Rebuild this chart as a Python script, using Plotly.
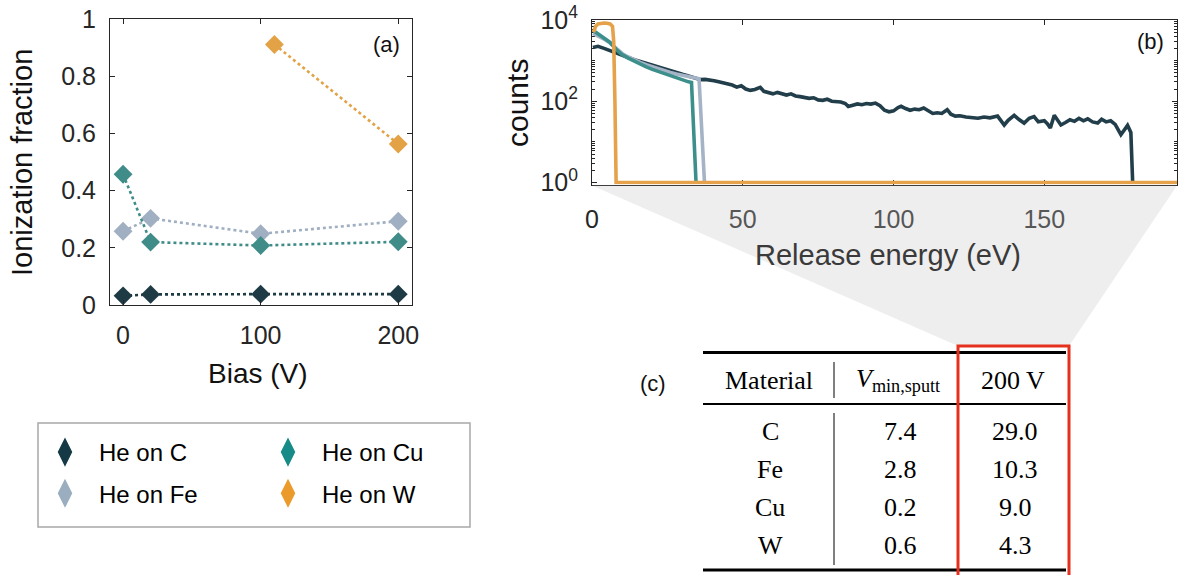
import plotly.graph_objects as go

W, H = 1179, 575
FONT = "Liberation Sans"
SERIF = "Liberation Serif"

# ---------------- Panel (a) data ----------------
bias_c = [0, 20, 100, 200]
frac_c = [0.032, 0.037, 0.038, 0.038]
bias_fe = [0, 20, 100, 200]
frac_fe = [0.258, 0.303, 0.249, 0.293]
bias_cu = [0, 20, 100, 200]
frac_cu = [0.457, 0.220, 0.208, 0.221]
bias_w = [110, 200]
frac_w = [0.911, 0.563]
series_names = ["He on C", "He on Fe", "He on Cu", "He on W"]

# ---------------- Panel (b) data ----------------
energy_c = [0.3, 2, 4, 6, 8, 10, 12, 14, 16, 18, 20, 22, 24, 26, 28, 30, 32, 34, 36,
            37.5, 39, 40.5, 42, 43.5, 45, 46.5, 48, 49.5, 51, 52.5, 54, 55.8, 57, 58.5,
            60, 61.5, 63, 64.5, 66, 67.5, 69, 70.5, 72, 73.5, 75, 76.5, 78, 79.5, 81,
            82.5, 84, 85, 86.5, 88, 89.5, 91, 92.5, 94, 95.5, 97, 98.5, 100, 101.5,
            102.5, 104, 105.5, 107, 108.5, 110, 111.5, 113, 114.5, 116, 117.8, 119,
            120.5, 122, 124, 126, 128, 130, 132, 134.5, 136.7, 138, 140, 141.5, 143.3,
            145, 146.6, 148, 150, 151, 152, 153.3, 154.5, 155.5, 157, 158.5, 160,
            161.5, 163, 164.4, 166, 167.7, 169, 170.5, 172, 173.5, 175.4, 176.5,
            177.6, 178.7, 179.3]
counts_c = [2100, 2250, 2000, 1750, 1550, 1350, 1180, 1050, 950, 850, 760, 680, 610,
            550, 500, 460, 420, 380, 340, 345, 335, 320, 300, 285, 270, 250, 222, 240,
            200, 185, 195, 220, 175, 160, 152, 165, 150, 142, 152, 135, 130, 126, 118,
            122, 108, 105, 112, 100, 98, 96, 88, 74, 80, 86, 82, 88, 85, 90, 78, 60, 55,
            58, 70, 75, 66, 60, 64, 62, 68, 58, 50, 52, 50, 62, 48, 43, 44, 41, 40, 38,
            41, 39, 43, 26, 34, 45, 36, 29, 38, 42, 31, 33, 28, 22, 45, 34, 26, 30, 35,
            32, 38, 33, 37, 31, 29, 36, 31, 33, 27, 15, 19, 25.5, 17, 1]

energy_fe = [0.3, 2, 4, 6, 8, 10, 12, 14, 16, 18, 20, 22, 24, 26, 28, 30, 32, 34, 35.5,
             37.3]
counts_fe = [4700, 4100, 3400, 2700, 1950, 1500, 1230, 1030, 900, 790, 700, 620, 560,
             510, 470, 440, 410, 380, 360, 1]

energy_cu = [0.3, 2, 4, 6, 8, 9, 10, 12, 14, 16, 18, 20, 22, 24, 26, 28, 30, 32, 33,
             34.5]
counts_cu = [5600, 4500, 3600, 2800, 1900, 1600, 1400, 1150, 960, 820, 700, 610, 540,
             470, 420, 370, 330, 300, 290, 1]

energy_w = [0.5, 1.2, 2, 3, 4, 5, 6, 6.8, 7.2, 7.6, 8, 194]
counts_w = [5000, 7000, 8000, 8400, 8400, 8300, 8000, 7000, 3000, 100, 1, 1]

# ---------------- Table (c) data ----------------
materials = ["C", "Fe", "Cu", "W"]
v_min_sputt = [7.4, 2.8, 0.2, 0.6]
v_200 = [29.0, 10.3, 9.0, 4.3]
table_header = ["Material", "<i>V</i><sub>min,sputt</sub>", "200 V"]

# ---------------- styling ----------------
plot_cols = ["#1d3a45", "#a0afc2", "#3f8c88", "#e2a245"]
legend_cols = ["#163a45", "#9aaec0", "#178b87", "#eb9a2c"]
line_cols = ["#213e4a", "#a5b3c6", "#3d8f8b", "#e6a24a"]
AX = "#262626"


def px(x):
    return x / W


def py(y):
    return 1 - y / H


fig = go.Figure()

# panel (a)
for bx, fy, col, name in zip([bias_c, bias_fe, bias_cu, bias_w],
                             [frac_c, frac_fe, frac_cu, frac_w],
                             plot_cols, series_names):
    fig.add_trace(go.Scatter(
        x=bx, y=fy, mode="lines+markers", name=name, showlegend=False,
        line=dict(color=col, width=2.6, dash="dot"),
        marker=dict(symbol="diamond", size=14.5, color=col, line=dict(width=0)),
        xaxis="x", yaxis="y"))

# legend-only entries (two columns)
for i, (name, col) in enumerate(zip(series_names, legend_cols)):
    fig.add_trace(go.Scatter(
        x=[None], y=[None], mode="markers", name=name,
        marker=dict(symbol="diamond-tall", size=16, color=col,
                    line=dict(color=col, width=3)),
        legend="legend" if i in (0, 1) else "legend2",
        legendgroup=name, xaxis="x", yaxis="y"))

# panel (b)
for ex, cy, col in zip([energy_c, energy_fe, energy_cu, energy_w],
                       [counts_c, counts_fe, counts_cu, counts_w], line_cols):
    fig.add_trace(go.Scatter(
        x=ex, y=cy, mode="lines", showlegend=False,
        line=dict(color=col, width=3.6, shape="linear"),
        xaxis="x2", yaxis="y2"))

axis_common = dict(showline=True, linecolor=AX, linewidth=1, mirror="ticks",
                   ticks="inside", ticklen=5, tickcolor=AX, tickwidth=1,
                   showgrid=False, zeroline=False, automargin=False,
                   tickfont=dict(family=FONT, size=25, color=AX))

legend_common = dict(xanchor="left", yanchor="top", bgcolor="rgba(0,0,0,0)",
                     borderwidth=0, tracegroupgap=7, itemwidth=58,
                     font=dict(family=FONT, size=24, color="#000"),
                     itemsizing="trace")

fig.update_layout(
    width=W, height=H,
    margin=dict(l=0, r=0, t=0, b=0, pad=0, autoexpand=False),
    paper_bgcolor="white", plot_bgcolor="rgba(0,0,0,0)",
    font=dict(family=FONT, color="#111"),
    xaxis=dict(domain=[px(110), px(412)], range=[-9.5, 210],
               tickvals=[0, 100, 200], ticklabelstandoff=8, anchor="y",
               **axis_common),
    yaxis=dict(domain=[py(305), py(19)], range=[0, 1],
               tickvals=[0, 0.2, 0.4, 0.6, 0.8, 1],
               ticktext=["0", "0.2", "0.4", "0.6", "0.8", "1"],
               ticklabelstandoff=8, anchor="x", **axis_common),
    xaxis2=dict(domain=[px(592), px(1177)], range=[0, 194],
                tickvals=[0, 50, 100, 150], ticklabelstandoff=12, anchor="y2",
                layer="below traces", **axis_common),
    yaxis2=dict(domain=[py(184.5), py(20)], type="log", range=[-0.05, 4],
                tickvals=[1, 100, 10000],
                ticktext=["10<sup>0</sup>", "10<sup>2</sup>", "10<sup>4</sup>"],
                ticklabelstandoff=8, anchor="x2", layer="below traces",
                minor=dict(ticks="inside", ticklen=3, tickcolor=AX,
                           tickvals=[m * 10 ** k for k in range(4) for m in range(2, 11)
                                     if m * 10 ** k not in (100,)]),
                **axis_common),
    legend=dict(x=px(31), y=py(430), **legend_common),
    legend2=dict(x=px(254), y=py(430), **legend_common),
)

shapes = []
# zoom shading from panel (b) to the 200 V column
shapes.append(dict(type="path", xref="paper", yref="paper",
                   path=f"M {px(592)},{py(185.5)} L {px(1177)},{py(185.5)} "
                        f"L {px(1069)},{py(346)} L {px(958)},{py(346)} Z",
                   fillcolor="rgba(200,200,200,0.3)", line=dict(width=0),
                   layer="above"))
# legend box
shapes.append(dict(type="rect", xref="paper", yref="paper",
                   x0=px(38), x1=px(470), y0=py(527), y1=py(423),
                   line=dict(color="#a8a8a8", width=1.5)))
# table rules
shapes.append(dict(type="line", xref="paper", yref="paper", x0=px(703), x1=px(1066),
                   y0=py(352.5), y1=py(352.5), line=dict(color="black", width=3.2)))
shapes.append(dict(type="line", xref="paper", yref="paper", x0=px(703), x1=px(1066),
                   y0=py(404), y1=py(404), line=dict(color="black", width=2)))
shapes.append(dict(type="line", xref="paper", yref="paper", x0=px(703), x1=px(1066),
                   y0=py(570), y1=py(570), line=dict(color="black", width=3.2)))
shapes.append(dict(type="line", xref="paper", yref="paper", x0=px(834), x1=px(834),
                   y0=py(362), y1=py(398), line=dict(color="black", width=1)))
shapes.append(dict(type="line", xref="paper", yref="paper", x0=px(834), x1=px(834),
                   y0=py(413), y1=py(565), line=dict(color="black", width=1)))
# red highlight box
shapes.append(dict(type="path", xref="paper", yref="paper",
                   path=f"M {px(958)},{py(590)} L {px(958)},{py(346)} "
                        f"L {px(1069)},{py(346)} L {px(1069)},{py(590)}",
                   line=dict(color="#e4301c", width=3), layer="above"))
fig.update_layout(shapes=shapes)

ann = []


def text(x, y, s, size, color="#111", family=FONT, angle=0, xanchor="center"):
    ann.append(dict(x=px(x), y=py(y), xref="paper", yref="paper", text=s,
                    showarrow=False, textangle=angle, xanchor=xanchor,
                    yanchor="middle", font=dict(family=family, size=size, color=color)))


text(22, 163, "Ionization fraction", 29, angle=-90)
text(258, 373, "Bias (V)", 28)
text(386, 45, "(a)", 22)
text(517, 103, "counts", 30, angle=-90)
text(888, 255, "Release energy (eV)", 29, color="#3a3a3a")
text(1150, 42, "(b)", 22)
text(653, 383, "(c)", 22)

col_x = [769, 898, 1013]
for cx, h in zip(col_x, table_header):
    text(cx, 380, h, 26, color="#000", family=SERIF)
row_y = [432, 469, 507, 545]
for ry, m, v1, v2 in zip(row_y, materials, v_min_sputt, v_200):
    text(770, ry, m, 26, color="#000", family=SERIF)
    text(900, ry, f"{v1:.1f}", 26, color="#000", family=SERIF)
    text(1015, ry, f"{v2:.1f}", 26, color="#000", family=SERIF)

fig.update_layout(annotations=ann)
fig.write_html("out.html")
